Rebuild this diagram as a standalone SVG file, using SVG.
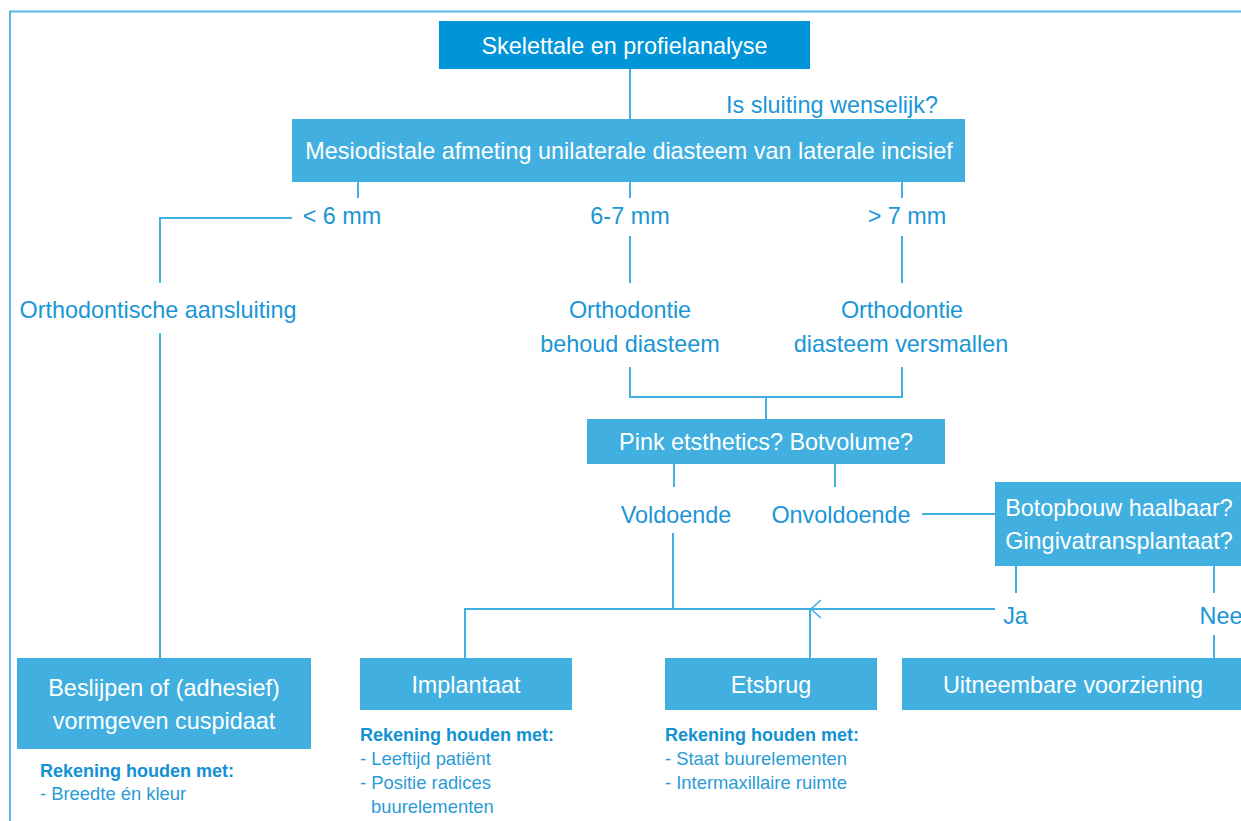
<svg xmlns="http://www.w3.org/2000/svg" width="1241" height="821" viewBox="0 0 1241 821">
<style>
  .dark { fill: #0095d8; }
  .box { fill: #41afe0; }
  .wt { font-family: "Liberation Sans", Arial, sans-serif; font-size: 23.4px; fill: #ffffff; text-anchor: middle; }
  .bt { font-family: "Liberation Sans", Arial, sans-serif; font-size: 23.4px; fill: #1a96d6; text-anchor: middle; }
  .nh { font-family: "Liberation Sans", Arial, sans-serif; font-size: 18px; font-weight: bold; fill: #1291d3; }
  .nt { font-family: "Liberation Sans", Arial, sans-serif; font-size: 18.4px; fill: #2a9bd8; }
  .ln { stroke: #41afe0; stroke-width: 2; fill: none; }
  .fr { stroke: #5ab6e2; stroke-width: 2; fill: none; }
</style>
<defs>
  <marker id="chev" markerUnits="userSpaceOnUse" viewBox="0 0 12 20" markerWidth="12" markerHeight="20" refX="11" refY="10" orient="auto">
    <path d="M1,1 L11,10 L1,19" fill="none" stroke="#41afe0" stroke-width="1.6"/>
  </marker>
</defs>
<rect x="0" y="0" width="1241" height="821" fill="#ffffff"/>
<g id="frame">
  <path class="fr" d="M10,821 L10,11.5 L1241,11.5"/>
</g>
<g id="connectors">
  <path class="ln" d="M630,69 L630,119"/>
  <path class="ln" d="M358,182 L358,198"/>
  <path class="ln" d="M630,182 L630,198"/>
  <path class="ln" d="M902,182 L902,198"/>
  <path class="ln" d="M292,218 L160,218 L160,283"/>
  <path class="ln" d="M630,236 L630,283"/>
  <path class="ln" d="M902,236 L902,283"/>
  <path class="ln" d="M160,333 L160,658"/>
  <path class="ln" d="M630,367 L630,397 L902,397 L902,367"/>
  <path class="ln" d="M766,397 L766,419"/>
  <path class="ln" d="M674,464 L674,487"/>
  <path class="ln" d="M835,464 L835,487"/>
  <path class="ln" d="M922,514 L995,514"/>
  <path class="ln" d="M673,533 L673,609"/>
  <path class="ln" d="M465,658 L465,609 L810,609 L810,658"/>
  <path class="ln" d="M995,609 L811,609" marker-end="url(#chev)"/>
  <path class="ln" d="M1016,566 L1016,593"/>
  <path class="ln" d="M1214,566 L1214,593"/>
  <path class="ln" d="M1214,635 L1214,658"/>
</g>
<g id="n-skelet">
  <rect class="dark" x="439" y="21" width="371" height="48"/>
  <text class="wt" x="624.5" y="54">Skelettale en profielanalyse</text>
</g>
<g id="n-question">
  <text class="bt" x="832" y="113">Is sluiting wenselijk?</text>
</g>
<g id="n-mesio">
  <rect class="box" x="292" y="119" width="673" height="63"/>
  <text class="wt" x="629" y="159">Mesiodistale afmeting unilaterale diasteem van laterale incisief</text>
</g>
<g id="n-lt6"><text class="bt" x="342" y="224">&lt; 6 mm</text></g>
<g id="n-67"><text class="bt" x="630" y="224">6-7 mm</text></g>
<g id="n-gt7"><text class="bt" x="907" y="224">&gt; 7 mm</text></g>
<g id="n-ortho-aans"><text class="bt" x="158" y="318">Orthodontische aansluiting</text></g>
<g id="n-ortho-behoud">
  <text class="bt" x="630" y="318">Orthodontie</text>
  <text class="bt" x="630" y="352">behoud diasteem</text>
</g>
<g id="n-ortho-versm">
  <text class="bt" x="902" y="318">Orthodontie</text>
  <text class="bt" x="901" y="352">diasteem versmallen</text>
</g>
<g id="n-pink">
  <rect class="box" x="587" y="419" width="358" height="45"/>
  <text class="wt" x="766" y="450">Pink etsthetics? Botvolume?</text>
</g>
<g id="n-vold"><text class="bt" x="676" y="523">Voldoende</text></g>
<g id="n-onvold"><text class="bt" x="841" y="523">Onvoldoende</text></g>
<g id="n-botop">
  <rect class="box" x="995" y="482" width="246" height="84"/>
  <text class="wt" x="1119" y="516">Botopbouw haalbaar?</text>
  <text class="wt" x="1119" y="549">Gingivatransplantaat?</text>
</g>
<g id="n-ja"><text class="bt" x="1015.5" y="624">Ja</text></g>
<g id="n-nee"><text class="bt" x="1221" y="624">Nee</text></g>
<g id="n-beslijpen">
  <rect class="box" x="17" y="658" width="294" height="91"/>
  <text class="wt" x="164" y="696">Beslijpen of (adhesief)</text>
  <text class="wt" x="164" y="729">vormgeven cuspidaat</text>
</g>
<g id="n-implant">
  <rect class="box" x="360" y="658" width="212" height="52"/>
  <text class="wt" x="466" y="693">Implantaat</text>
</g>
<g id="n-etsbrug">
  <rect class="box" x="665" y="658" width="212" height="52"/>
  <text class="wt" x="771" y="693">Etsbrug</text>
</g>
<g id="n-uitneem">
  <rect class="box" x="902" y="658" width="339" height="52"/>
  <text class="wt" x="1073" y="693">Uitneembare voorziening</text>
</g>
<g id="notes-beslijpen">
  <text class="nh" x="40" y="777">Rekening houden met:</text>
  <text class="nt" x="40" y="800">- Breedte én kleur</text>
</g>
<g id="notes-implant">
  <text class="nh" x="360" y="741">Rekening houden met:</text>
  <text class="nt" x="360" y="765">- Leeftijd patiënt</text>
  <text class="nt" x="360" y="789">- Positie radices</text>
  <text class="nt" x="371" y="813">buurelementen</text>
</g>
<g id="notes-etsbrug">
  <text class="nh" x="665" y="741">Rekening houden met:</text>
  <text class="nt" x="665" y="765">- Staat buurelementen</text>
  <text class="nt" x="665" y="789">- Intermaxillaire ruimte</text>
</g>
</svg>
